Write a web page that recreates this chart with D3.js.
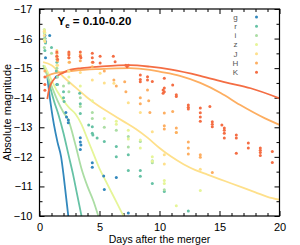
<!DOCTYPE html>
<html>
<head>
<meta charset="utf-8">
<script src="https://cdn.jsdelivr.net/npm/d3@7"></script>
<style>
  body { margin: 0; background: #fff; }
  text { font-family: "Liberation Sans", Arial, sans-serif; }
</style>
</head>
<body>
<div id="chart"></div>
<script>
// ---- data: [days, absolute magnitude] ----
const bands = ["g", "r", "i", "z", "J", "H", "K"];
const colors = ["#3288bd", "#66c2a5", "#abdda4", "#e6f598", "#fee08b", "#fdae61", "#f46d43"];

const xTicks = [0, 5, 10, 15, 20];
const yTicks = [-17, -16, -15, -14, -13, -12, -11, -10];

// model curves
const modelG = [[0.6,-14.9],[0.8,-14.2],[1.0,-13.6],[1.2,-13.1],[1.5,-12.5],[1.8,-12.0],[2.0,-11.4],[2.2,-10.7],[2.4,-10.0]];
const modelR = [[0.5,-15.0],[0.8,-14.5],[1.2,-13.9],[1.6,-13.4],[2.0,-12.8],[2.4,-12.1],[2.8,-11.4],[3.1,-10.8],[3.5,-10.0]];
const modelI = [[0.3,-15.1],[1.0,-14.4],[1.5,-13.9],[2.0,-13.5],[2.4,-13.25],[3.0,-12.4],[3.5,-11.6],[4.0,-11.0],[4.5,-10.5],[4.9,-10.0]];
const modelZ = [[0.4,-15.1],[1.0,-14.6],[1.5,-14.2],[2.0,-13.9],[2.5,-13.65],[3.0,-13.45],[3.5,-13.1],[4.0,-12.6],[4.5,-12.1],[5.0,-11.6],[5.5,-11.2],[6.0,-10.8],[6.5,-10.4],[7.0,-10.0]];
const modelJ = [[0.3,-15.2],[1,-15.1],[2,-14.7],[3,-14.35],[4,-14.0],[5,-13.7],[6,-13.45],[7,-13.2],[8,-12.95],[9,-12.65],[10,-12.3],[11,-12.0],[12,-11.75],[13,-11.55],[14,-11.4],[15,-11.25],[16,-11.1],[17,-10.95],[18,-10.8],[19,-10.65],[20,-10.55]];
const modelH = [[0.45,-14.7],[1,-14.8],[2,-14.87],[3,-14.92],[5,-14.97],[7.5,-15.0],[9.2,-14.94],[10,-14.88],[11.7,-14.74],[13.4,-14.5],[15.1,-14.16],[16.7,-13.76],[18.8,-13.3],[20,-13.08]];
const modelK = [[0.65,-13.95],[0.8,-14.3],[1.0,-14.5],[1.3,-14.67],[2,-14.85],[2.5,-14.94],[3.5,-15.0],[5,-15.05],[7.5,-15.1],[9.2,-15.05],[11,-14.95],[13.4,-14.74],[15.5,-14.52],[17.6,-14.32],[20,-13.98]];

// observed points
const obsG = [[0.45,-16.1],[0.45,-16.0],[0.5,-15.9],[0.85,-16.1],[0.5,-15.35],[1.4,-14.7],[1.45,-14.45],[2.2,-13.5],[2.25,-13.35],[2.4,-13.25],[2.4,-13.15],[3.4,-12.65],[3.4,-12.5],[3.45,-12.4],[3.4,-12.25],[4.4,-11.8],[4.4,-11.65],[5.35,-11.35],[5.4,-10.9],[6.4,-11.3],[7.4,-10.1]];
const obsR = [[0.45,-16.0],[0.5,-15.85],[0.45,-15.6],[1.0,-15.7],[1.45,-15.2],[1.4,-14.9],[1.5,-14.45],[2.0,-14.2],[2.0,-14.0],[2.05,-13.87],[3.35,-14.15],[3.4,-13.8],[3.4,-13.47],[4.1,-13.08],[4.4,-13.02],[4.4,-12.8],[4.45,-12.74],[4.8,-12.64],[5.4,-12.52],[6.4,-12.35],[6.4,-12.0],[7.4,-12.07],[7.4,-11.54],[8.4,-11.54],[8.4,-11.34],[9.4,-11.1],[10.4,-10.83],[12.4,-10.17]];
const obsI = [[0.4,-16.3],[0.4,-16.2],[0.45,-16.0],[0.4,-15.7],[1.0,-15.5],[1.45,-15.3],[1.45,-15.0],[1.5,-14.7],[2.0,-14.4],[2.45,-14.5],[2.45,-14.2],[3.4,-14.0],[3.4,-13.7],[4.4,-13.5],[4.4,-13.3],[5.4,-13.0],[6.4,-12.9],[7.4,-12.69],[7.4,-12.33],[8.4,-12.52],[9.4,-11.87],[9.4,-11.8],[10.4,-10.89]];
const obsZ = [[0.4,-16.3],[0.45,-16.2],[0.4,-15.95],[1.45,-15.4],[1.45,-15.1],[2.45,-14.9],[2.45,-14.7],[3.4,-14.4],[4.4,-13.9],[5.4,-13.3],[6.4,-13.2],[6.4,-13.1],[7.4,-12.9],[7.4,-12.6],[8.4,-12.57],[8.4,-12.3],[9.4,-12.0],[9.4,-11.85],[10.4,-11.2],[10.4,-11.1],[11.4,-10.35],[13.4,-10.86]];
const obsJ = [[0.4,-16.25],[0.4,-16.1],[0.45,-15.9],[1.45,-15.6],[1.45,-15.35],[1.5,-15.1],[2.45,-15.2],[2.45,-14.9],[3.4,-14.85],[4.4,-14.6],[5.05,-14.83],[5.4,-14.5],[6.2,-14.49],[7.4,-13.83],[8.4,-13.5],[9.4,-12.85],[10.4,-12.07],[10.4,-11.76],[11.4,-12.82],[13.4,-11.58]];
const obsH = [[0.45,-14.9],[1.45,-15.5],[1.45,-15.4],[1.5,-15.25],[2.45,-15.5],[2.45,-15.35],[2.5,-15.2],[3.4,-15.45],[3.4,-15.25],[4.4,-15.2],[4.4,-15.05],[5.4,-14.9],[6.2,-14.6],[6.4,-14.4],[7.1,-14.54],[7.2,-14.2],[8.4,-14.0],[8.4,-13.8],[9.0,-14.26],[9.1,-13.9],[9.2,-13.5],[10.4,-13.48],[10.4,-13.05],[10.4,-12.94],[11.1,-13.53],[11.4,-12.98],[11.4,-12.82],[12.4,-12.5],[12.4,-12.3],[12.4,-12.1],[13.4,-12.07],[13.4,-11.99],[14.4,-11.47]];
const obsK = [[0.45,-14.7],[0.45,-14.45],[0.45,-14.25],[1.45,-15.55],[1.45,-15.4],[1.5,-15.3],[2.45,-15.55],[2.45,-15.45],[2.45,-15.35],[3.4,-15.55],[3.4,-15.4],[3.45,-15.35],[4.4,-15.5],[4.4,-15.35],[4.45,-15.2],[5.05,-15.4],[5.05,-15.17],[6.15,-15.4],[6.3,-15.22],[7.2,-15.1],[7.3,-15.05],[7.4,-15.1],[8.4,-14.77],[8.4,-14.62],[8.4,-14.54],[9.0,-14.71],[9.0,-14.6],[9.4,-14.55],[10.3,-14.26],[10.3,-14.15],[10.4,-14.66],[10.4,-14.33],[10.4,-14.2],[11.1,-14.43],[11.4,-14.1],[11.4,-14.04],[12.4,-13.75],[12.4,-13.68],[12.4,-13.62],[13.4,-13.65],[13.4,-13.49],[13.4,-13.35],[13.4,-13.2],[14.2,-13.7],[14.4,-13.19],[14.4,-13.1],[14.4,-13.02],[15.2,-13.08],[15.4,-12.98],[15.4,-12.9],[15.4,-12.8],[15.4,-12.64],[16.4,-12.74],[16.4,-12.64],[16.4,-12.12],[17.4,-12.47],[17.4,-12.3],[18.4,-12.3],[18.4,-12.22],[18.4,-12.15],[18.4,-12.05],[19.4,-12.18],[19.4,-11.81]];

const models = [modelG, modelR, modelI, modelZ, modelJ, modelH, modelK];
const observed = [obsG, obsR, obsI, obsZ, obsJ, obsH, obsK];

// ---- layout ----
const W = 300, H = 245;
const margin = {top: 9, right: 20.5, bottom: 29, left: 39.5};
const width = W - margin.left - margin.right;
const height = H - margin.top - margin.bottom;

const svg = d3.select("#chart").append("svg")
    .attr("width", W)
    .attr("height", H);

const g = svg.append("g")
    .attr("transform", `translate(${margin.left},${margin.top})`);

const x = d3.scaleLinear().domain([0, 20]).range([0, width]);
const y = d3.scaleLinear().domain([-17, -10]).range([0, height]);

g.append("clipPath").attr("id", "clip")
  .append("rect").attr("width", width).attr("height", height);

// ---- axes (ticks inward on all sides) ----
const minorX = d3.range(0, 21, 1).filter(d => d % 5 !== 0);
const minorY = d3.range(-16.5, -10, 1);

function styleAxis(sel) {
    sel.select(".domain").remove();
    sel.selectAll("line").attr("stroke", "#000").attr("stroke-width", 1);
    sel.selectAll("text").attr("font-size", 11).attr("fill", "#000");
}

g.append("g").attr("transform", `translate(0,${height})`)
    .call(d3.axisBottom(x).tickValues(xTicks).tickSizeInner(-5).tickPadding(7).tickFormat(d3.format("d")))
    .call(styleAxis);
g.append("g").attr("transform", `translate(0,${height})`)
    .call(d3.axisBottom(x).tickValues(minorX).tickSizeInner(-3).tickFormat(""))
    .call(styleAxis);
g.append("g")
    .call(d3.axisTop(x).tickValues(xTicks).tickSizeInner(-5).tickFormat(""))
    .call(styleAxis);
g.append("g")
    .call(d3.axisTop(x).tickValues(minorX).tickSizeInner(-3).tickFormat(""))
    .call(styleAxis);

g.append("g")
    .call(d3.axisLeft(y).tickValues(yTicks).tickSizeInner(-5).tickPadding(7).tickFormat(d3.format("d")))
    .call(styleAxis);
g.append("g")
    .call(d3.axisLeft(y).tickValues(minorY).tickSizeInner(-3).tickFormat(""))
    .call(styleAxis);
g.append("g").attr("transform", `translate(${width},0)`)
    .call(d3.axisRight(y).tickValues(yTicks).tickSizeInner(-5).tickFormat(""))
    .call(styleAxis);
g.append("g").attr("transform", `translate(${width},0)`)
    .call(d3.axisRight(y).tickValues(minorY).tickSizeInner(-3).tickFormat(""))
    .call(styleAxis);

// ---- model curves ----
const line = d3.line()
    .x(d => x(d[0]))
    .y(d => y(d[1]))
    .curve(d3.curveMonotoneX);

const plot = g.append("g").attr("clip-path", "url(#clip)");

models.forEach((m, i) => {
    plot.append("path")
        .datum(m)
        .attr("fill", "none")
        .attr("stroke", colors[i])
        .attr("stroke-width", 1.8)
        .attr("d", line);
});

// ---- observed points ----
observed.forEach((pts, i) => {
    plot.append("g")
        .selectAll("circle")
        .data(pts)
        .enter()
        .append("circle")
        .attr("cx", d => x(d[0]))
        .attr("cy", d => y(d[1]))
        .attr("r", 1.5)
        .attr("fill", colors[i]);
});

// frame
g.append("rect")
    .attr("width", width).attr("height", height)
    .attr("fill", "none").attr("stroke", "#000").attr("stroke-width", 1.2);

// ---- title ----
const title = g.append("text")
    .attr("x", 18).attr("y", 16)
    .attr("font-size", 11.5)
    .attr("font-weight", "bold");
title.append("tspan").text("Y");
title.append("tspan").attr("font-size", 8).attr("dy", 2.5).text("e");
title.append("tspan").attr("dy", -2.5).text(" = 0.10-0.20");

// ---- legend ----
const legend = g.append("g").attr("transform", `translate(${width - 44},8)`);
legend.selectAll("text")
    .data(bands)
    .enter()
    .append("text")
    .attr("x", 0)
    .attr("y", (d, i) => i * 9.2)
    .attr("dy", "0.35em")
    .attr("text-anchor", "middle")
    .attr("font-size", 8)
    .attr("fill", "#555")
    .text(d => d);
legend.selectAll("circle")
    .data(bands)
    .enter()
    .append("circle")
    .attr("cx", 21)
    .attr("cy", (d, i) => i * 9.2)
    .attr("r", 1.5)
    .attr("fill", (d, i) => colors[i]);

// ---- axis titles ----
svg.append("text")
    .attr("transform", `translate(11,${margin.top + height / 2}) rotate(-90)`)
    .attr("text-anchor", "middle")
    .attr("font-size", 11)
    .text("Absolute magnitude");

svg.append("text")
    .attr("x", margin.left + width / 2)
    .attr("y", 243)
    .attr("text-anchor", "middle")
    .attr("font-size", 10.5)
    .text("Days after the merger");
</script>
</body>
</html>
